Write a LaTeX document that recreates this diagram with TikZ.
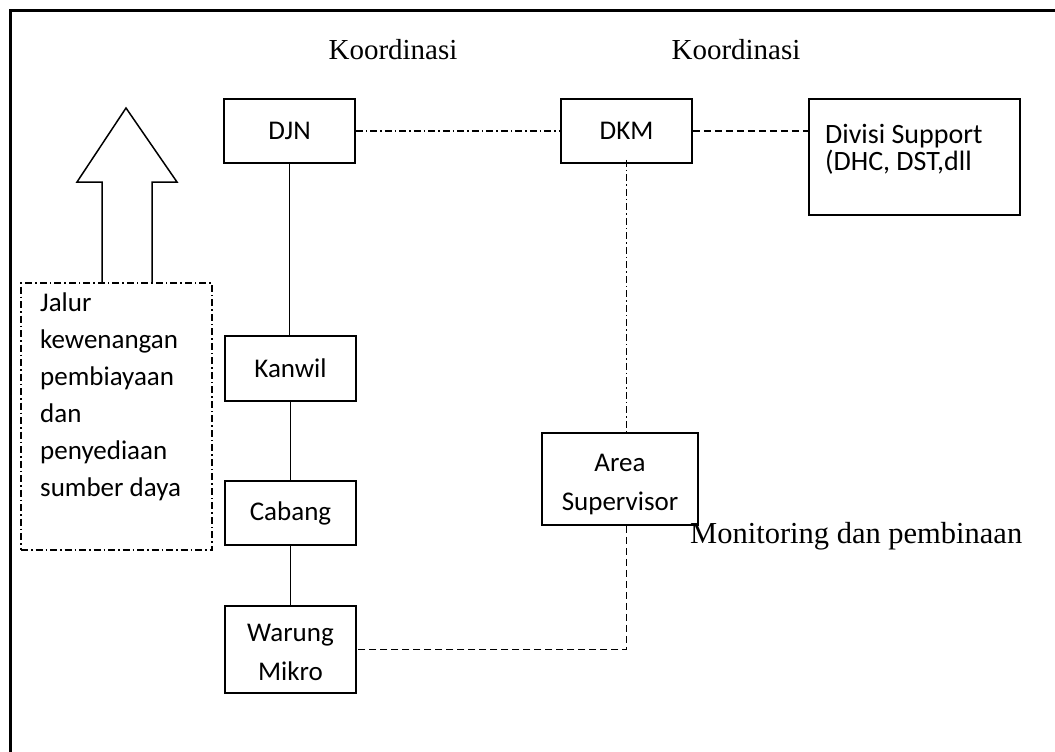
\documentclass[tikz,border=0pt]{standalone}
\usepackage{fontspec}
\setmainfont{Carlito}
\newfontfamily\tnr{Liberation Serif}
\begin{document}
\begin{tikzpicture}[x=1pt,y=-1pt,
  box/.style={draw, line width=1.5pt, font=\fontsize{27}{39}\selectfont, align=center, inner sep=0pt},
  txt/.style={inner sep=0pt, align=left},
  tlabel/.style={inner sep=0pt, font=\tnr\fontsize{29}{34}\selectfont},
  solidline/.style={line width=1.6pt},
  dashdotline/.style={line width=1.5pt, dash pattern=on 7pt off 3pt on 1.5pt off 3pt},
  dashline/.style={line width=1.5pt, dash pattern=on 7pt off 4pt}]
\useasboundingbox (0,0) rectangle (1055,752);
\fill[white] (0,0) rectangle (1055,752);
% outer frame (only top and left visible)
\draw[line width=3pt] (10,752) -- (10,11) -- (1055,11);

% boxes
\node[box, minimum width=131pt, minimum height=64pt] (djn) at (289.5,131) {DJN};
\node[box, minimum width=131pt, minimum height=65pt] (kanwil) at (290.5,368.5) {Kanwil};
\node[box, minimum width=131pt, minimum height=64pt] (cabang) at (290.5,513) {Cabang};
\node[box, minimum width=131pt, minimum height=87pt] (warung) at (290.5,649.5) {\rule{0pt}{23.5pt}Warung\\Mikro};
\node[box, minimum width=156pt, minimum height=92pt] (area) at (620,479) {\rule{0pt}{27.5pt}Area\\Supervisor};
\node[box, minimum width=131pt, minimum height=64pt] (dkm) at (626.5,131) {DKM};
\node[box, minimum width=211pt, minimum height=116pt] (divisi) at (914.5,157) {};
\node[txt, anchor=north west, font=\fontsize{28}{27}\selectfont] (divisitxt) at (825,124) {Divisi Support\\(DHC, DST,dll};

% dash-dot box with text
\node[draw, line width=1.5pt, dash pattern=on 7pt off 3pt on 1.5pt off 3pt,
      minimum width=191pt, minimum height=267pt, inner sep=0pt] (jalur) at (116.5,416.5) {};
\node[txt, anchor=north west, font=\fontsize{27}{37}\selectfont] (jalurtxt) at (40,293)
  {Jalur\\kewenangan\\pembiayaan\\dan\\penyediaan\\sumber daya};

% big hollow arrow
\draw[line width=1.5pt, line join=miter]
  (102,283) -- (102,182) -- (77,182) -- (126,108) -- (177,182) -- (152,182) -- (152,283);

% labels
\node[tlabel] (k1) at (393,50) {Koordinasi};
\node[tlabel] (k2) at (736,50) {Koordinasi};
\node[tlabel, anchor=west, font=\tnr\fontsize{30.5}{34}\selectfont] (mon) at (690,536) {Monitoring dan pembinaan};

% connectors
\draw[solidline] (djn.south) -- (djn.south |- kanwil.north);
\draw[solidline] (kanwil.south) -- (kanwil.south |- cabang.north);
\draw[solidline] (cabang.south) -- (cabang.south |- warung.north);
\draw[dashdotline] (djn.east) -- (dkm.west);
\draw[dashline] (dkm.east) -- (dkm.east -| divisi.west);
\draw[dashdotline] ([yshift=4pt]dkm.south) -- (dkm.south |- area.north);
\draw[dashline] (dkm.south |- area.south) -- (dkm.south |- warung.east) -- (warung.east);
\end{tikzpicture}
\end{document}
